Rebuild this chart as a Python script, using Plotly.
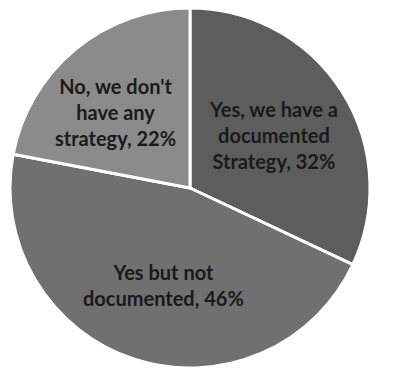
import math
import plotly.graph_objects as go

# Survey responses on strategy documentation
labels = ["Yes, we have a<br>documented<br>Strategy", "Yes but not<br>documented", "No, we don't<br>have any<br>strategy"]
values = [32, 46, 22]
colors = ["#5d5d5d", "#707070", "#8b8b8b"]

W, H = 410, 368
dom_x = [10 / W, 370 / W]
dom_y = [0.0, 1 - 8 / H]

fig = go.Figure(go.Pie(
    labels=labels,
    values=values,
    sort=False,
    direction="clockwise",
    rotation=0,
    marker=dict(colors=colors, line=dict(color="white", width=3)),
    textinfo="none",
    hoverinfo="label+percent",
    showlegend=False,
    domain=dict(x=dom_x, y=dom_y),
))

# Place each label near its slice's bisector, about halfway out from the centre
cx = (dom_x[0] + dom_x[1]) / 2 * W
cy_top = (1 - (dom_y[0] + dom_y[1]) / 2) * H
radius = min((dom_x[1] - dom_x[0]) * W, (dom_y[1] - dom_y[0]) * H) / 2
radial = [0.55, 0.56, 0.59]
angle_nudge = [0, -3, -5]
total = sum(values)
start = 0.0
for lab, val, rf, nudge in zip(labels, values, radial, angle_nudge):
    sweep = val / total * 360
    mid = math.radians(start + sweep / 2 + nudge)
    px = cx + rf * radius * math.sin(mid)
    py = cy_top - rf * radius * math.cos(mid)
    fig.add_annotation(
        x=px / W, y=1 - py / H, xref="paper", yref="paper",
        xanchor="center", yanchor="middle",
        text=f"{lab}, {val}%", showarrow=False,
        font=dict(family="Lato", size=20, color="#1a1a1a", weight="bold"),
        align="center",
    )
    start += sweep

fig.update_layout(
    width=W, height=H,
    margin=dict(l=0, r=0, t=0, b=0),
    paper_bgcolor="white",
    plot_bgcolor="white",
)

fig.write_html("out.html")
